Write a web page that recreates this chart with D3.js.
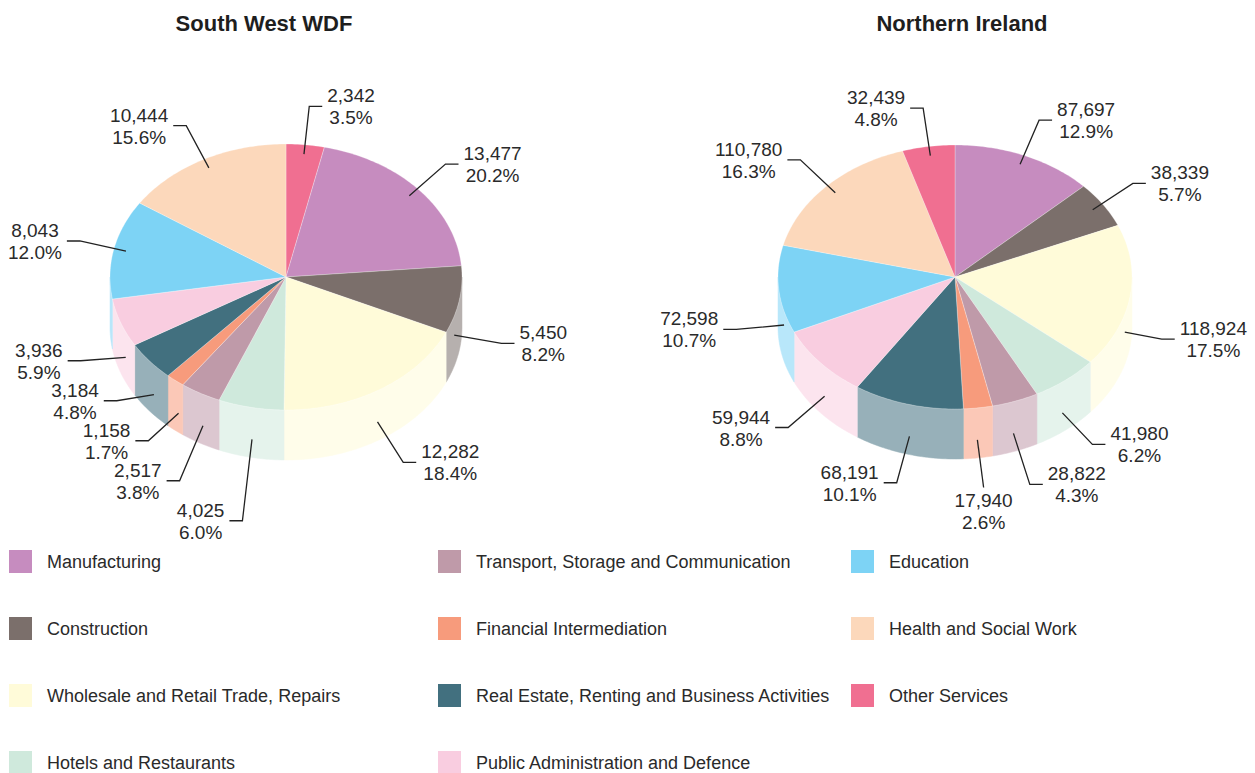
<!DOCTYPE html>
<html>
<head>
<meta charset="utf-8">
<script src="https://cdn.jsdelivr.net/npm/d3@7"></script>
<style>
  html, body { margin: 0; padding: 0; background: #ffffff; }
  svg { display: block; font-family: "Liberation Sans", Arial, sans-serif; }
</style>
</head>
<body>
<script>
// ---------------- DATA ----------------
const categories = [
  "Manufacturing",
  "Construction",
  "Wholesale and Retail Trade, Repairs",
  "Hotels and Restaurants",
  "Transport, Storage and Communication",
  "Financial Intermediation",
  "Real Estate, Renting and Business Activities",
  "Public Administration and Defence",
  "Education",
  "Health and Social Work",
  "Other Services"
];
const categoryColors = [
  "#c68cbf", "#7b6f6b", "#fffbd9", "#cfe9dc", "#bf9aa9", "#f79b7c",
  "#42707f", "#f9cde0", "#7dd3f5", "#fcd8bb", "#f06f91"
];
const southWestValues = [13477, 5450, 12282, 4025, 2517, 1158, 3184, 3936, 8043, 10444, 2342];
const northernIrelandValues = [87697, 38339, 118924, 41980, 28822, 17940, 68191, 59944, 72598, 110780, 32439];
const pieTitles = ["South West WDF", "Northern Ireland"];
const pieStartCategories = ["Other Services", "Manufacturing"];

// ---------------- LAYOUT ----------------
const W = 1255, H = 773;
const pieLayouts = [
  { cx: 286, cy: 277, rx: 176, ry: 133, depth: 50, titleX: 264 },
  { cx: 955, cy: 277, rx: 177, ry: 132, depth: 50, titleX: 962 }
];

const svg = d3.select("body").append("svg").attr("width", W).attr("height", H);
svg.append("rect").attr("width", W).attr("height", H).attr("fill", "#ffffff");

const color = d3.scaleOrdinal().domain(categories).range(categoryColors);
const sideColor = c => d3.interpolateRgb(c, "#ffffff")(0.45);
const fmtN = d3.format(",");
const fmtP = d3.format(".1%");

function drawPie(values, cfg, title, startCat) {
  const si = categories.indexOf(startCat);
  const order = categories.slice(si).concat(categories.slice(0, si));
  const data = order.map(c => ({ cat: c, value: values[categories.indexOf(c)] }));
  const total = d3.sum(data, d => d.value);
  const arcs = d3.pie().sort(null).value(d => d.value)(data);

  const g = svg.append("g");
  const P = (a, f = 1, dy = 0) => [cfg.cx + cfg.rx * f * Math.sin(a), cfg.cy - cfg.ry * f * Math.cos(a) + dy];
  const rim = (a0, a1, dy) => {
    const n = Math.max(2, Math.ceil(Math.abs(a1 - a0) / (Math.PI / 180)));
    return d3.range(n + 1).map(i => P(a0 + (a1 - a0) * i / n, 1, dy));
  };
  const line = d3.line();

  // side walls (front half only)
  arcs.forEach(d => {
    const a0 = Math.max(d.startAngle, Math.PI / 2);
    const a1 = Math.min(d.endAngle, 3 * Math.PI / 2);
    if (a1 <= a0) return;
    const pts = rim(a0, a1, 0).concat(rim(a1, a0, cfg.depth));
    const fc = sideColor(color(d.data.cat));
    g.append("path").attr("d", line(pts) + "Z").attr("fill", fc)
      .attr("stroke", fc).attr("stroke-width", 0.5);
  });

  // top faces
  arcs.forEach(d => {
    const pts = [[cfg.cx, cfg.cy]].concat(rim(d.startAngle, d.endAngle, 0));
    g.append("path").attr("d", line(pts) + "Z").attr("fill", color(d.data.cat))
      .attr("stroke", "#ffffff").attr("stroke-opacity", 0.45).attr("stroke-width", 0.6);
  });

  // title
  svg.append("text").attr("x", cfg.titleX).attr("y", 31).attr("text-anchor", "middle")
    .attr("font-size", 22).attr("font-weight", "bold").attr("fill", "#1e1e1e").text(title);

  // labels
  const labels = arcs.map(d => {
    const mid = (d.startAngle + d.endAngle) / 2, s = Math.sin(mid), c = Math.cos(mid);
    const front = c < 0;
    const anchor = front ? P(mid, 0.97, cfg.depth * 0.72) : P(mid, 0.93, 0);
    const L = 48;
    const elbow = [anchor[0] + L * s, anchor[1] - L * c];
    const bottom = front && Math.abs(s) < 0.15;
    return { d, s, c, anchor, elbow, bottom, side: s >= 0 ? 1 : -1, y0: elbow[1] };
  });

  // vertical relaxation per side
  const gap = 40;
  [-1, 1].forEach(side => {
    const items = labels.filter(l => !l.bottom && l.side === side).sort((a, b) => a.y0 - b.y0);
    let clusters = [];
    const place = cl => {
      const m = d3.mean(cl.items, x => x.y0);
      const n = cl.items.length;
      cl.items.forEach((x, k) => { x.elbow[1] = m + (k - (n - 1) / 2) * gap; });
    };
    items.forEach(it => {
      clusters.push({ items: [it] });
      place(clusters[clusters.length - 1]);
      while (clusters.length > 1) {
        const a = clusters[clusters.length - 2], b = clusters[clusters.length - 1];
        const aBottom = a.items[a.items.length - 1].elbow[1];
        const bTop = b.items[0].elbow[1];
        if (bTop - aBottom < gap) {
          a.items = a.items.concat(b.items);
          clusters.pop();
          place(a);
        } else break;
      }
    });
  });

  const lg = svg.append("g");
  const fs = 19, base = 7, seg = 13, pad = 5, margin = 8;
  labels.forEach(l => {
    const t1 = fmtN(l.d.data.value), t2 = fmtP(l.d.data.value / total);
    const tx1 = lg.append("text").attr("font-size", fs).attr("fill", "#2a2a2a").attr("text-anchor", "middle").text(t1);
    const tx2 = lg.append("text").attr("font-size", fs).attr("fill", "#2a2a2a").attr("text-anchor", "middle").text(t2);
    const w = Math.max(tx1.node().getComputedTextLength(), tx2.node().getComputedTextLength());
    let pts, x, y1, y2;
    if (l.bottom) {
      pts = [l.anchor, l.elbow];
      x = l.elbow[0];
      y1 = l.elbow[1] + 12; y2 = l.elbow[1] + 34;
    } else {
      // keep the text block inside the picture
      if (l.side > 0) {
        const over = l.elbow[0] + seg + pad + w - (W - margin);
        if (over > 0) l.elbow[0] -= over;
      } else {
        const over = margin - (l.elbow[0] - seg - pad - w);
        if (over > 0) l.elbow[0] += over;
      }
      const end = [l.elbow[0] + seg * l.side, l.elbow[1]];
      pts = [l.anchor, l.elbow, end];
      x = end[0] + l.side * (pad + w / 2);
      y1 = l.elbow[1] - 11; y2 = l.elbow[1] + 11;
    }
    tx1.attr("x", x).attr("y", y1 + base);
    tx2.attr("x", x).attr("y", y2 + base);
    lg.append("path").attr("d", line(pts)).attr("fill", "none")
      .attr("stroke", "#222222").attr("stroke-width", 1.3);
  });
}

drawPie(southWestValues, pieLayouts[0], pieTitles[0], pieStartCategories[0]);
drawPie(northernIrelandValues, pieLayouts[1], pieTitles[1], pieStartCategories[1]);

// legend
const legendCols = [9, 438, 851];
const legendRows = [550, 617, 684, 751];
const legend = svg.append("g");
categories.forEach((c, i) => {
  const col = Math.floor(i / 4), row = i % 4;
  const x = legendCols[col], y = legendRows[row];
  legend.append("rect").attr("x", x).attr("y", y).attr("width", 23).attr("height", 23).attr("fill", color(c));
  legend.append("text").attr("x", x + 38).attr("y", y + 18).attr("font-size", 18)
    .attr("fill", "#2a2a2a").text(c);
});
</script>
</body>
</html>
